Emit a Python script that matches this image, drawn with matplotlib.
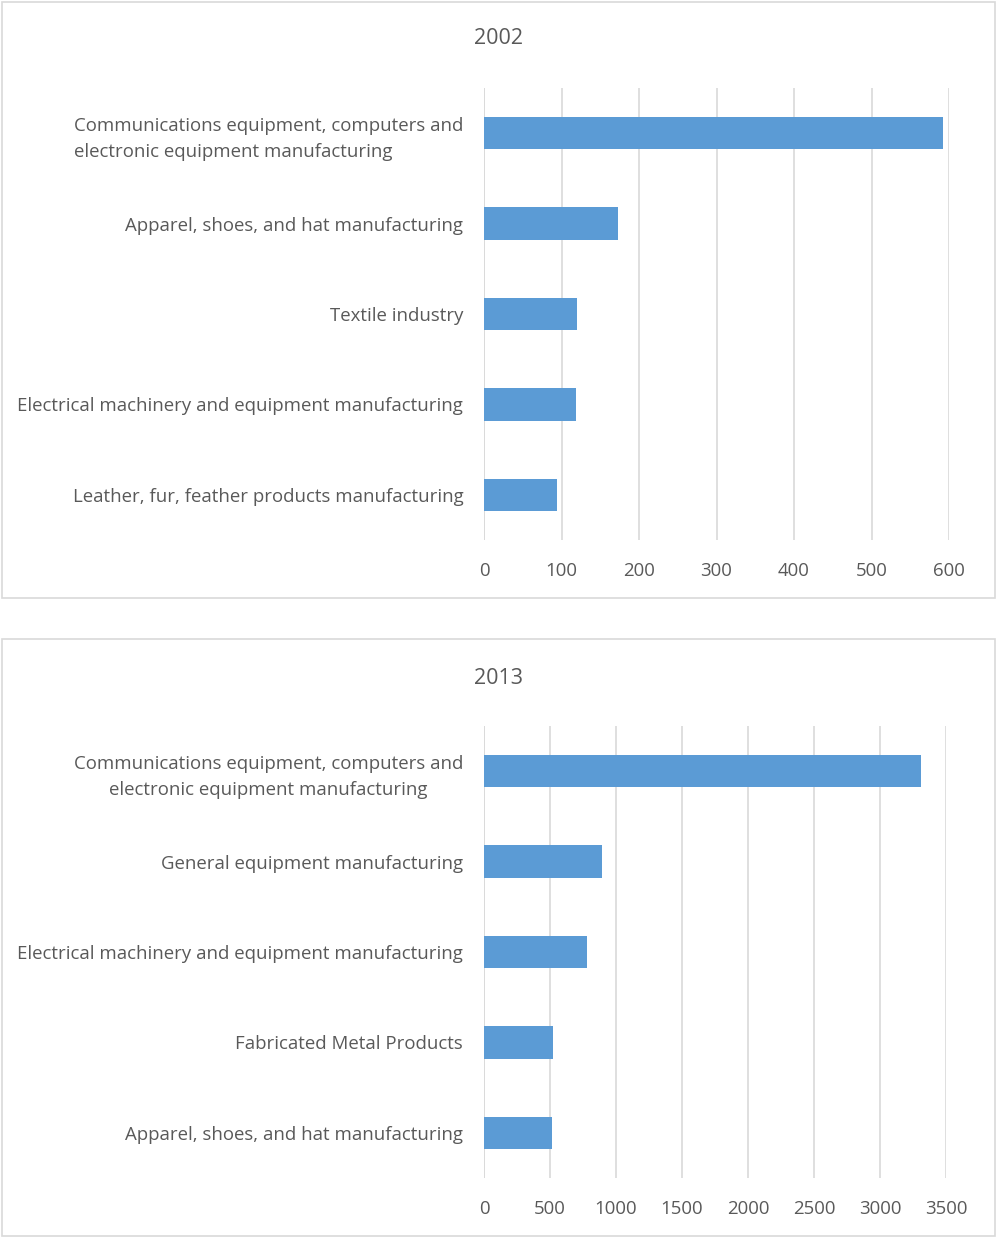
import matplotlib.pyplot as plt
from matplotlib.patches import Rectangle

# 2002 data (top to bottom)
cats_2002 = ["Communications equipment, computers and\nelectronic equipment manufacturing",
             "Apparel, shoes, and hat manufacturing",
             "Textile industry",
             "Electrical machinery and equipment manufacturing",
             "Leather, fur, feather products manufacturing"]
vals_2002 = [592, 173, 120, 119, 94]
ticks_2002 = [0, 100, 200, 300, 400, 500, 600]

# 2013 data (top to bottom)
cats_2013 = ["Communications equipment, computers and\nelectronic equipment manufacturing",
             "General equipment manufacturing",
             "Electrical machinery and equipment manufacturing",
             "Fabricated Metal Products",
             "Apparel, shoes, and hat manufacturing"]
vals_2013 = [3310, 894, 780, 523, 515]
ticks_2013 = [0, 500, 1000, 1500, 2000, 2500, 3000, 3500]

W, H = 996, 1237
plt.rcParams['font.family'] = ['Open Sans', 'DejaVu Sans']
fig = plt.figure(figsize=(W / 100, H / 100), dpi=100)

txt = '#595959'
grid = '#d9d9d9'
bar_c = '#5b9bd5'


def fx(px):
    return px / W


def fy(py):
    return 1 - py / H


def panel(box, ax_px, title, title_y, cats, vals, ticks, align):
    bx0, by0, bx1, by1 = box
    fig.patches.append(Rectangle((fx(bx0), fy(by1)), fx(bx1 - bx0), (by1 - by0) / H,
                                 transform=fig.transFigure, fill=False,
                                 edgecolor=grid, linewidth=1.2))
    fig.text(fx((bx0 + bx1) / 2), fy(title_y), title, ha='center', va='center',
             fontsize=15.5, color=txt)
    x0, y0, x1, y1 = ax_px
    ax = fig.add_axes([fx(x0), fy(y1), fx(x1 - x0), (y1 - y0) / H])
    n = len(cats)
    pos = list(range(n))
    ax.barh(pos, vals, height=0.36, color=bar_c, zorder=3)
    ax.set_ylim(n - 0.5, -0.5)
    ax.set_xlim(ticks[0], ticks[-1])
    ax.set_xticks(ticks)
    ax.set_xticklabels([str(t) for t in ticks])
    ax.set_yticks(pos)
    ax.set_yticklabels(cats, multialignment=align, linespacing=1.55)
    ax.tick_params(axis='both', length=0, colors=txt, labelsize=13.4)
    ax.tick_params(axis='x', pad=16)
    ax.tick_params(axis='y', pad=15)
    ax.grid(axis='x', color=grid, linewidth=1.2, zorder=0)
    for s in ax.spines.values():
        s.set_visible(False)
    ax.axvline(0, color=grid, linewidth=1.2, zorder=1)


panel((2, 2, 995, 598), (484, 88, 949, 540), "2002", 39,
      cats_2002, vals_2002, ticks_2002, 'left')
panel((2, 639, 995, 1236), (484, 726, 946, 1178), "2013", 678,
      cats_2013, vals_2013, ticks_2013, 'center')

fig.savefig('out.png', dpi=100, facecolor='white')
